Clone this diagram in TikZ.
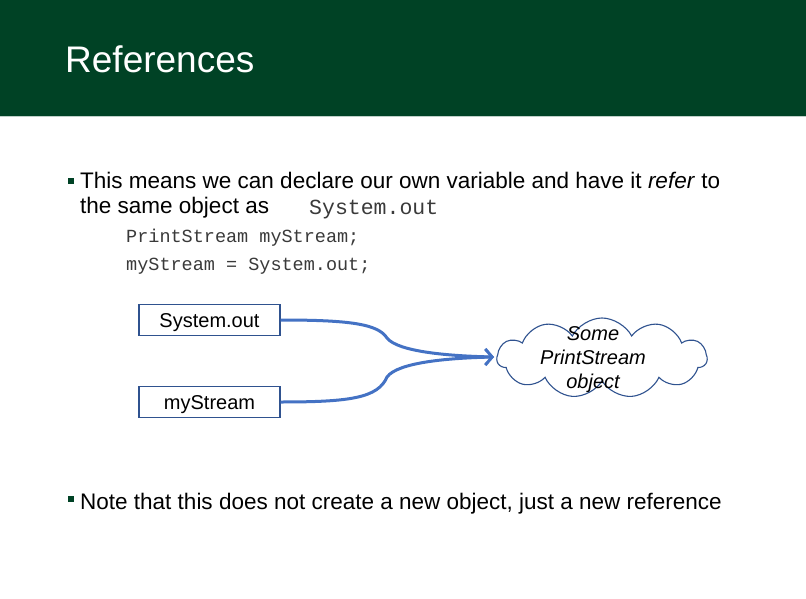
\documentclass[tikz,border=0pt]{standalone}
\usepackage{fontspec}
\setmainfont{Liberation Sans}
\setmonofont{Liberation Mono}
\usetikzlibrary{shapes.symbols,arrows.meta}
\definecolor{hdrgreen}{HTML}{004225}
\definecolor{boxblue}{HTML}{2F528F}
\definecolor{arrowblue}{HTML}{4472C4}
\definecolor{codegrey}{HTML}{3A3A3A}
\tikzset{
  bodytext/.style={anchor=base west, inner sep=0pt, font=\fontsize{22.5}{26}\selectfont},
  codetext/.style={anchor=base west, inner sep=0pt, text=codegrey, font=\ttfamily\fontsize{18.5}{22}\selectfont},
  bulletmark/.style={fill=hdrgreen, draw=none},
  varbox/.style={draw=boxblue, line width=1.2pt, minimum width=141pt, minimum height=31pt,
    inner sep=0pt, text height=14pt, text depth=0pt, font=\fontsize{20}{24}\selectfont},
  objcloud/.style={cloud, cloud puffs=11, cloud puff arc=125, aspect=2.6, draw=boxblue,
    line width=1.1pt, minimum width=210pt, minimum height=80pt, inner sep=0pt},
  refarrow/.style={draw=arrowblue, line width=3pt, -{Straight Barb[length=7pt,width=16pt,line width=2.6pt]}},
}
\begin{document}
\begin{tikzpicture}[x=1pt,y=-1pt]
\useasboundingbox (0,0) rectangle (806,599);
\fill[white] (0,0) rectangle (806,599);
% title bar
\fill[hdrgreen] (0,0) rectangle (806,116);
\draw[color=hdrgreen!25, line width=1pt] (0,116.5) -- (806,116.5);
\node[anchor=base west, inner sep=0pt, text=white, font=\fontsize{37}{41}\selectfont] (title) at (65,73) {References};

% first bullet
\fill[bulletmark] (68,178) rectangle (74,184);
\node[bodytext] (line1) at (80,188) {This means we can declare our own variable and have it \emph{refer} to};
\node[bodytext] (line2) at (80,213) {the same object as};
\node[codetext, font=\ttfamily\fontsize{21.5}{25}\selectfont] (sysout) at (309,214) {System.out};
\node[codetext] (code1) at (126,242) {PrintStream myStream;};
\node[codetext] (code2) at (126,270) {myStream = System.out;};

% variables and the object they refer to
\node[varbox] (vsys) at (209.5,320) {System.out};
\node[varbox] (vmine) at (209.5,402) {myStream};
\node[objcloud] (obj) at (602,358) {};
\node[align=center, inner sep=0pt, font=\itshape\fontsize{20}{24}\selectfont] (objtext) at (593,360) {Some\\PrintStream\\object};

\coordinate (tip) at (494,357);
\draw[refarrow] (vsys.east) .. controls (350,320) and (378,324) .. (387,338)
  .. controls (398,352) and (450,356) .. (tip);
\draw[refarrow] (vmine.east) .. controls (350,402) and (378,398) .. (387,377)
  .. controls (398,362) and (450,358) .. (tip);

% second bullet
\fill[bulletmark] (68,496) rectangle (74,502);
\node[bodytext] (line3) at (80,509) {Note that this does not create a new object, just a new reference};
\end{tikzpicture}
\end{document}
